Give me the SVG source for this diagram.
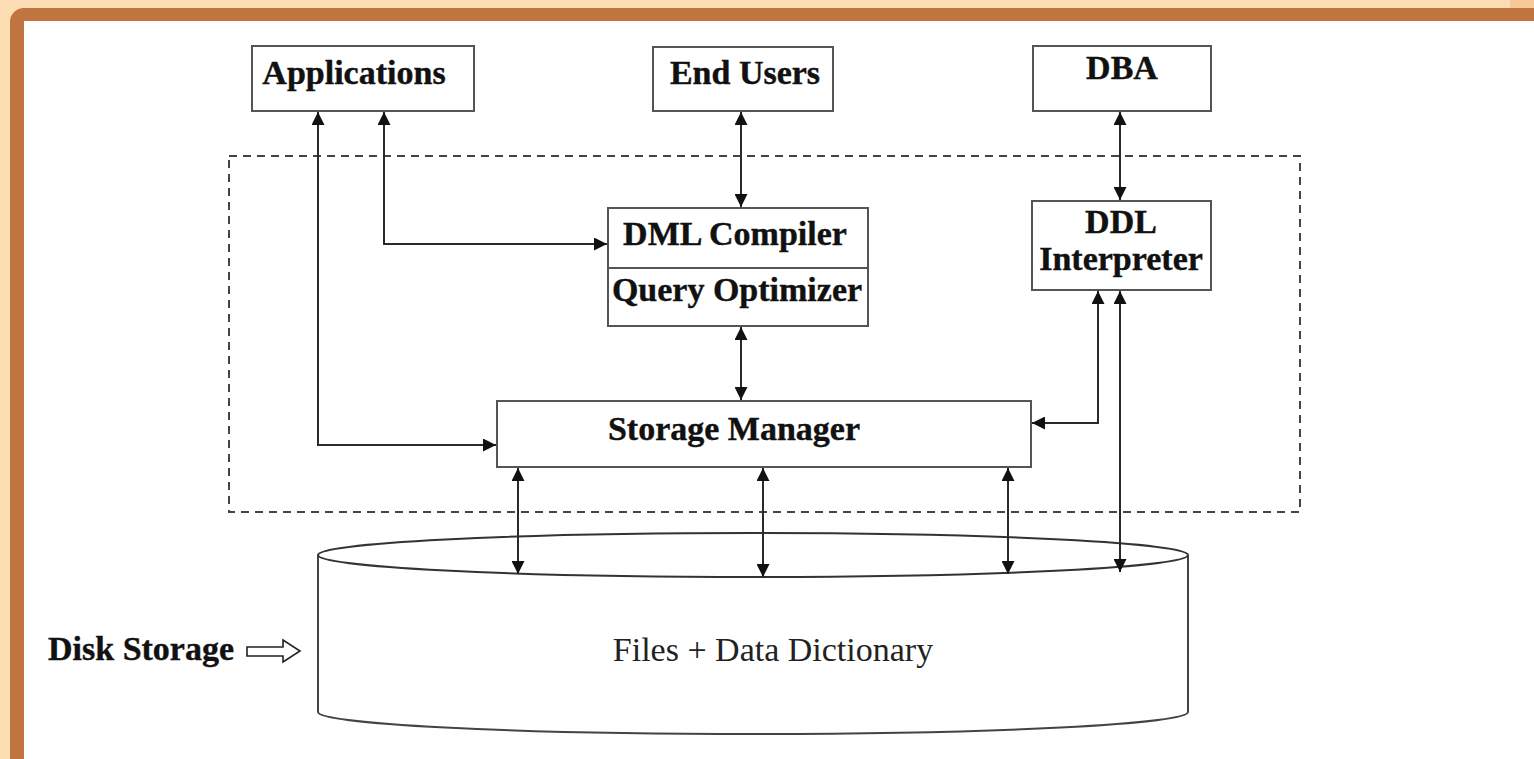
<svg xmlns="http://www.w3.org/2000/svg" width="1534" height="759" viewBox="0 0 1534 759">
  <style>
    .box { fill: #ffffff; stroke: #555555; stroke-width: 2; }
    .lbl { font-family: "Liberation Serif", "Times New Roman", serif; font-weight: bold; font-size: 34px; fill: #111111; stroke: #111111; stroke-width: 0.4; text-anchor: middle; }
    .plain { font-family: "Liberation Serif", "Times New Roman", serif; font-size: 34px; fill: #222222; text-anchor: middle; }
    .link { fill: none; stroke: #2a2a2a; stroke-width: 2; marker-start: url(#arrow); marker-end: url(#arrow); }
  </style>
  <defs>
    <marker id="arrow" viewBox="0 0 10 10" refX="10" refY="5" markerWidth="6.5" markerHeight="6.5" orient="auto-start-reverse">
      <path d="M0,0 L10,5 L0,10 Z" fill="#111111"/>
    </marker>
  </defs>

  <!-- slide frame -->
  <rect x="0" y="0" width="1534" height="759" fill="#FDDEB4"/>
  <rect x="1510" y="0" width="24" height="8" fill="#F8C898"/>
  <path d="M10,759 V22 A14,14 0 0 1 24,8 H1534 V21 H24 V759 Z" fill="#C0743F"/>
  <rect x="24" y="21" width="1510" height="738" fill="#ffffff"/>

  <!-- system boundary -->
  <rect x="229" y="156" width="1071" height="356" fill="none" stroke="#444444" stroke-width="2" stroke-dasharray="8 6"/>

  <!-- disk storage cylinder -->
  <g id="disk">
    <path d="M318,555 V712 A435,22 0 0 0 1188,712 V555" fill="#ffffff" stroke="#444444" stroke-width="2"/>
    <ellipse cx="753" cy="555" rx="435" ry="22" fill="#ffffff" stroke="#333333" stroke-width="2"/>
    <text class="plain" x="773" y="661">Files + Data Dictionary</text>
  </g>

  <g id="disk-label">
    <text class="lbl" x="48" y="660" style="text-anchor:start">Disk Storage</text>
    <path d="M247,647 H283 V640 L300,651 L283,662 V656 H247 Z" fill="#ffffff" stroke="#222222" stroke-width="1.6"/>
  </g>

  <g id="applications">
    <rect class="box" x="252" y="46" width="222" height="65"/>
    <text class="lbl" x="354" y="84">Applications</text>
  </g>

  <g id="end-users">
    <rect class="box" x="653" y="47" width="180" height="64"/>
    <text class="lbl" x="745" y="84">End Users</text>
  </g>

  <g id="dba">
    <rect class="box" x="1033" y="46" width="178" height="65"/>
    <text class="lbl" x="1122" y="79">DBA</text>
  </g>

  <g id="dml-compiler">
    <rect class="box" x="608" y="208" width="260" height="118"/>
    <line x1="608" y1="268" x2="868" y2="268" stroke="#555555" stroke-width="2"/>
    <text class="lbl" x="735" y="245">DML Compiler</text>
    <text class="lbl" x="737" y="301">Query Optimizer</text>
  </g>

  <g id="ddl-interpreter">
    <rect class="box" x="1032" y="201" width="179" height="89"/>
    <text class="lbl" x="1121" y="233">DDL</text>
    <text class="lbl" x="1121" y="270">Interpreter</text>
  </g>

  <g id="storage-manager">
    <rect class="box" x="497" y="401" width="534" height="66"/>
    <text class="lbl" x="734" y="440">Storage Manager</text>
  </g>

  <g id="connectors">
    <path class="link" d="M318,112 V445 H496"/>
    <path class="link" d="M384,112 V244 H607"/>
    <path class="link" d="M741,112 V207"/>
    <path class="link" d="M1120,112 V200"/>
    <path class="link" d="M741,327 V400"/>
    <path class="link" d="M1098,291 V423 H1032"/>
    <path class="link" d="M1120,291 V572"/>
    <path class="link" d="M518,468 V574"/>
    <path class="link" d="M763,468 V577"/>
    <path class="link" d="M1008,468 V574"/>
  </g>
</svg>
